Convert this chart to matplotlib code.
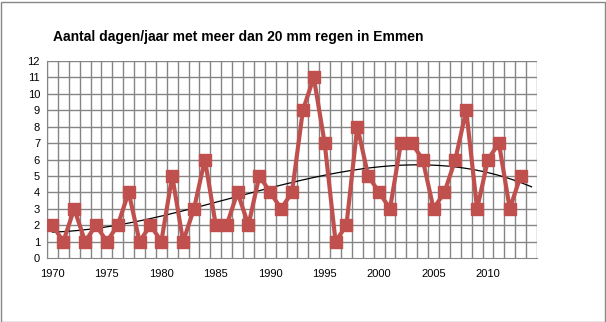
import numpy as np
import matplotlib
matplotlib.use("Agg")
import matplotlib.pyplot as plt
from matplotlib.patches import Rectangle

plt.rcParams['font.family'] = ['Liberation Sans', 'DejaVu Sans']

years = list(range(1970, 2014))
days = [2, 1, 3, 1, 2, 1, 2, 4, 1, 2,
        1, 5, 1, 3, 6, 2, 2, 4, 2, 5,
        4, 3, 4, 9, 11, 7, 1, 2, 8, 5,
        4, 3, 7, 7, 6, 3, 4, 6, 9, 3,
        6, 7, 3, 5]
title = "Aantal dagen/jaar met meer dan 20 mm regen in Emmen"

fig = plt.figure(figsize=(6.06, 3.22), dpi=100)
ax = fig.add_axes([47 / 606, 1 - 258 / 322, 490 / 606, 197 / 322])

### Grid lines between the categories
for x in np.arange(1969.5, 2015, 1):
    ax.axvline(x, color='#858585', linewidth=1, zorder=0)
for y in range(1, 13):
    ax.axhline(y, color='#858585', linewidth=1, zorder=0)

### polynomial trendline (order 3), one year forward
coef = np.polyfit(years, days, 3)
xt = np.linspace(1970, 2014, 200)
ax.plot(xt, np.polyval(coef, xt), color='black', linewidth=0.9, zorder=2)

ax.plot(years, days, color='#C0504D', linewidth=3, marker='s', markersize=9,
        markerfacecolor='#C0504D', markeredgecolor='#C0504D', zorder=3)

ax.set_xlim(1969.5, 2014.5)
ax.set_ylim(0, 12)
ax.set_yticks(range(0, 13))
ax.set_xticks(range(1970, 2014, 5))
ax.tick_params(axis='both', length=0, labelsize=8, colors='black')
ax.tick_params(axis='x', pad=8)
ax.tick_params(axis='y', pad=5)
for side in ['top', 'right']:
    ax.spines[side].set_visible(False)
for side in ['left', 'bottom']:
    ax.spines[side].set_color('#858585')

fig.text(238 / 606, 1 - 37 / 322, title, ha='center', va='center',
         fontsize=10, fontweight='bold')

fig.patches.append(Rectangle((0.5 / 606, 0.5 / 322), 604 / 606, 320 / 322,
                             transform=fig.transFigure, fill=False,
                             edgecolor='#868686', linewidth=1))

plt.savefig("out.png", dpi=100)
plt.close()
